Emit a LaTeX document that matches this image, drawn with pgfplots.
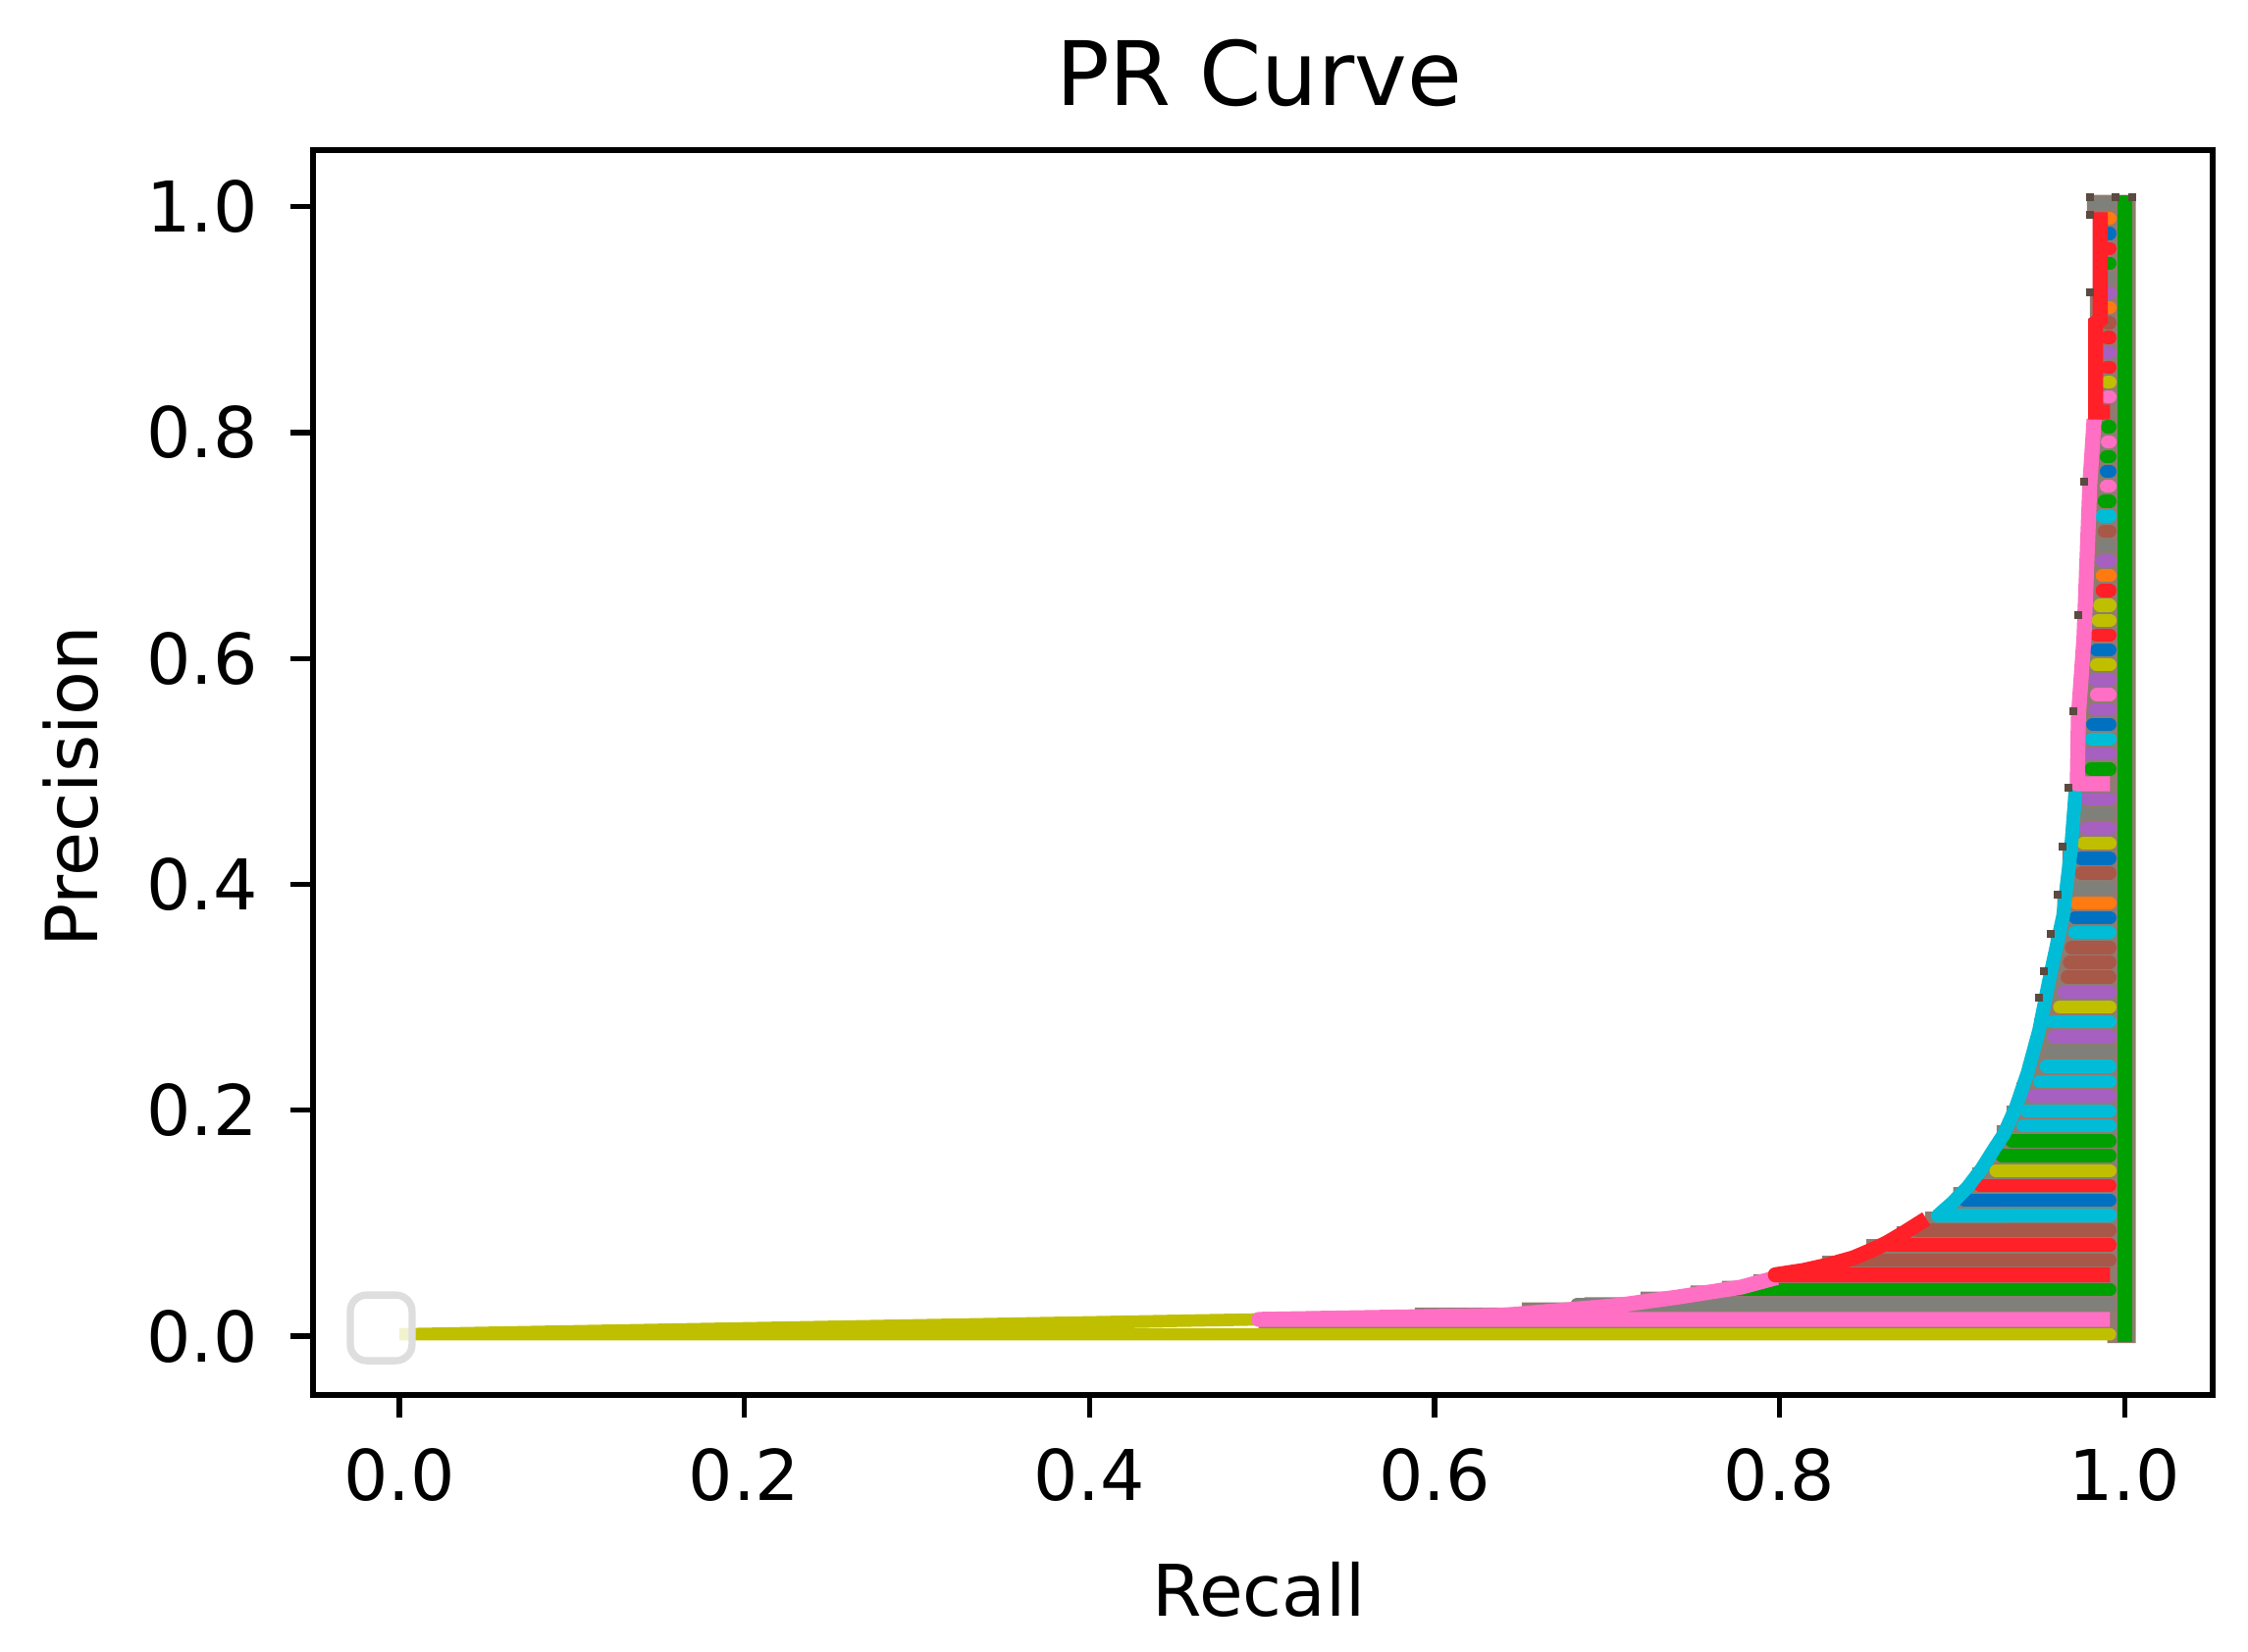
\documentclass[border=0pt]{standalone}
\usepackage{fontspec}
\setmainfont{DejaVu Sans}
\usepackage{pgfplots}
\pgfplotsset{compat=1.18}

\definecolor{cred}{HTML}{FF2028}
\definecolor{cpink}{HTML}{FF70C4}
\definecolor{colive}{HTML}{BFBF00}
\definecolor{ccyan}{HTML}{00BCD6}
\definecolor{cblue}{HTML}{0070C0}
\definecolor{corange}{HTML}{FF7A10}
\definecolor{cpurple}{HTML}{A560C0}
\definecolor{cbrown}{HTML}{A85848}
\definecolor{cgray}{HTML}{80807A}
\definecolor{cgreen}{HTML}{00A000}
\definecolor{cbase}{HTML}{8E7C70}
\definecolor{ctip}{HTML}{5A4A40}

% one stripe per precision level: left end and height, right end is fixed
\newcommand{\stripe}[3]{\addplot[#1,line width=2pt,line cap=round] coordinates {(#2,#3) (0.9915,#3)};}

\begin{document}
\begin{tikzpicture}
\useasboundingbox (-47.85pt,-39.15pt) rectangle (295.8pt,213.3pt);
\begin{axis}[
  at={(0pt,0pt)}, anchor=south west,
  scale only axis, width=290.4pt, height=190.35pt,
  xmin=-0.05, xmax=1.051, ymin=-0.052, ymax=1.05,
  xtick={0,0.2,0.4,0.6,0.8,1}, ytick={0,0.2,0.4,0.6,0.8,1},
  xtick pos=bottom, ytick pos=left, tick align=outside,
  major tick length=3.5pt,
  axis line style={line width=0.8pt},
  tick style={line width=0.8pt,black},
  tick label style={font=\fontsize{10.7}{12}\selectfont,/pgf/number format/assume math mode=true},
  xticklabel style={yshift=-1.2pt},
  yticklabel style={xshift=-1.4pt},
  /pgf/number format/.cd, fixed, fixed zerofill, precision=1, /tikz/.cd,
  title={PR Curve},
  title style={font=\fontsize{13.6}{16}\selectfont,at={(axis description cs:0.498,1.0042)},anchor=base,inner sep=0pt},
  xlabel={Recall},
  xlabel style={font=\fontsize{10.9}{13}\selectfont,at={(axis description cs:0.498,-0.1773)},anchor=base,inner sep=0pt},
  ylabel={Precision},
  ylabel style={font=\fontsize{11}{13}\selectfont,at={(axis description cs:-0.1136,0.489)},anchor=base,inner sep=0pt},
]
% grey-brown stair behind everything
\addplot[fill=cbase,draw=none] coordinates {
 (0.4980,0.0060) (0.4980,0.0190) (0.5289,0.0190) (0.5289,0.0220) (0.5886,0.0220) (0.5886,0.0255)
 (0.6506,0.0255) (0.6506,0.0300) (0.6869,0.0300) (0.6869,0.0345) (0.7194,0.0345) (0.7194,0.0395)
 (0.7484,0.0395) (0.7484,0.0450) (0.7666,0.0450) (0.7666,0.0490) (0.7848,0.0490) (0.7848,0.0550)
 (0.7990,0.0550) (0.7990,0.0608) (0.8246,0.0608) (0.8246,0.0712) (0.8502,0.0712) (0.8502,0.0859)
 (0.8678,0.0859) (0.8678,0.0972) (0.8843,0.0972) (0.8843,0.1102) (0.9007,0.1102) (0.9007,0.1319)
 (0.9116,0.1319) (0.9116,0.1493) (0.9224,0.1493) (0.9224,0.1727) (0.9258,0.1727) (0.9258,0.1866)
 (0.9315,0.1866) (0.9315,0.2040) (0.9372,0.2040) (0.9372,0.2248) (0.9411,0.2248) (0.9411,0.2422)
 (0.9446,0.2422) (0.9446,0.2604) (0.9475,0.2604) (0.9475,0.2813) (0.9502,0.2813) (0.9502,0.2995)
 (0.9531,0.2995) (0.9531,0.3229) (0.9571,0.3229) (0.9571,0.3559) (0.9610,0.3559) (0.9610,0.3906)
 (0.9639,0.3906) (0.9639,0.4332) (0.9673,0.4332) (0.9673,0.4852) (0.9702,0.4852) (0.9702,0.5530)
 (0.9730,0.5530) (0.9730,0.6380) (0.9764,0.6380) (0.9764,0.7569) (0.9798,0.7569) (0.9798,0.9245)
 (0.9827,0.9245) (0.9827,0.9900) (0.9781,0.9900) (0.9781,1.0104) (1.0064,1.0104) (1.0064,-0.0060)
 (0.9900,-0.0060) (0.9900,0.0060)
} \closedcycle;
% dark tips of the stair
\addplot[only marks,mark=square*,mark size=0.4pt,color=ctip] coordinates {
 (0.9502,0.2995) (0.9531,0.3229) (0.9571,0.3559) (0.9610,0.3906) (0.9639,0.4332) (0.9673,0.4852)
 (0.9702,0.5530) (0.9730,0.6380) (0.9764,0.7569) (0.9798,0.9245) (0.9797,1.0087) (0.9797,0.9925)
 (0.9948,1.0087) (1.0043,1.0087)
};
% stripes, top to bottom
\stripe{cgray}{0.9820}{1.0025}
\stripe{corange}{0.9905}{0.9894}
\stripe{cblue}{0.9905}{0.9762}
\stripe{cred}{0.9900}{0.9630}
\stripe{cgreen}{0.9905}{0.9499}
\stripe{cgray}{0.9900}{0.9367}
\stripe{cpurple}{0.9900}{0.9235}
\stripe{corange}{0.9900}{0.9104}
\stripe{cbrown}{0.9900}{0.8972}
\stripe{cred}{0.9900}{0.8840}
\stripe{cpurple}{0.9900}{0.8709}
\stripe{cred}{0.9900}{0.8577}
\stripe{colive}{0.9900}{0.8445}
\stripe{cpink}{0.9900}{0.8314}
\stripe{cgreen}{0.9900}{0.8050}
\stripe{cpink}{0.9900}{0.7918}
\stripe{cgreen}{0.9894}{0.7787}
\stripe{cblue}{0.9894}{0.7655}
\stripe{cpink}{0.9894}{0.7523}
\stripe{cgreen}{0.9881}{0.7392}
\stripe{ccyan}{0.9870}{0.7260}
\stripe{cbrown}{0.9881}{0.7128}
\stripe{cgray}{0.9881}{0.6997}
\stripe{cpurple}{0.9870}{0.6865}
\stripe{corange}{0.9870}{0.6733}
\stripe{cred}{0.9870}{0.6602}
\stripe{colive}{0.9856}{0.6470}
\stripe{colive}{0.9847}{0.6338}
\stripe{cred}{0.9837}{0.6207}
\stripe{cblue}{0.9837}{0.6075}
\stripe{colive}{0.9837}{0.5943}
\stripe{cpurple}{0.9828}{0.5812}
\stripe{cpink}{0.9837}{0.5680}
\stripe{cpurple}{0.9828}{0.5548}
\stripe{cblue}{0.9815}{0.5417}
\stripe{ccyan}{0.9809}{0.5285}
\stripe{cpurple}{0.9799}{0.5153}
\stripe{cgreen}{0.9805}{0.5021}
\stripe{cpurple}{0.9780}{0.4758}
\stripe{cgray}{0.9780}{0.4626}
\stripe{cpurple}{0.9775}{0.4495}
\stripe{colive}{0.9762}{0.4363}
\stripe{cblue}{0.9748}{0.4231}
\stripe{cbrown}{0.9748}{0.4100}
\stripe{cgray}{0.9733}{0.3968}
\stripe{corange}{0.9718}{0.3836}
\stripe{cblue}{0.9714}{0.3705}
\stripe{ccyan}{0.9710}{0.3573}
\stripe{cbrown}{0.9691}{0.3441}
\stripe{cbrown}{0.9680}{0.3310}
\stripe{cbrown}{0.9667}{0.3178}
\stripe{cpurple}{0.9648}{0.3046}
\stripe{colive}{0.9623}{0.2915}
\stripe{ccyan}{0.9581}{0.2783}
\stripe{cpurple}{0.9591}{0.2651}
\stripe{cgray}{0.9572}{0.2520}
\stripe{ccyan}{0.9544}{0.2388}
\stripe{ccyan}{0.9506}{0.2256}
\stripe{cpurple}{0.9468}{0.2124}
\stripe{ccyan}{0.9430}{0.1993}
\stripe{ccyan}{0.9411}{0.1861}
\stripe{cgreen}{0.9345}{0.1729}
\stripe{cgreen}{0.9288}{0.1598}
\stripe{colive}{0.9254}{0.1466}
\stripe{cred}{0.9163}{0.1334}
\stripe{cblue}{0.9072}{0.1203}
\stripe{cbrown}{0.8799}{0.0939}
\stripe{cred}{0.8640}{0.0808}
\stripe{cbrown}{0.8384}{0.0676}
\stripe{cgreen}{0.7690}{0.0412}
\stripe{cgray}{0.6826}{0.0281}
% the long curves, each one starts on its own stripe
\addplot[colive,line width=1.9pt,line cap=round] coordinates {(0.9915,0.0017) (0,0.0017) (0.4982,0.0149)};
\addplot[cpink,line width=2.3pt,line join=round] coordinates {
 (0.9915,0.0149) (0.4982,0.0149) (0.6397,0.0185) (0.7046,0.0270) (0.7410,0.0347) (0.7774,0.0434) (0.7985,0.0520)};
\addplot[cred,line width=2.3pt,line join=round] coordinates {
 (0.9915,0.0544) (0.7975,0.0544) (0.8138,0.0582) (0.8280,0.0630) (0.8428,0.0694) (0.8530,0.0760)
 (0.8620,0.0825) (0.8720,0.0915) (0.8850,0.1040)};
\addplot[ccyan,line width=2.1pt,line cap=round,line join=round] coordinates {
 (0.9915,0.1071) (0.8917,0.1068) (0.9000,0.1180) (0.9090,0.1320) (0.9170,0.1480) (0.9240,0.1650)
 (0.9300,0.1790) (0.9370,0.2030) (0.9438,0.2335) (0.9504,0.2708) (0.9561,0.3142) (0.9643,0.3721)
 (0.9688,0.4300) (0.9713,0.4792)};
\addplot[cpink,line width=2.3pt,line join=round] coordinates {
 (0.9915,0.4890) (0.9725,0.4890) (0.9732,0.5497) (0.9764,0.6180) (0.9798,0.7543) (0.9823,0.8119)};
\addplot[cred,line width=2.3pt,line join=miter] coordinates {
 (0.9915,0.8182) (0.9832,0.8182) (0.9832,0.8972) (0.9858,0.9000) (0.9858,0.9950)};
\addplot[cgreen,line width=2.2pt] coordinates {(1,-0.005) (1,1.0104)};
% empty legend frame
\draw[draw=black!13,fill=white,fill opacity=0.8,line width=1.1pt,rounded corners=2.5pt]
  (axis cs:-0.0284,-0.0217) rectangle (axis cs:0.0074,0.0365);
\end{axis}
\end{tikzpicture}
\end{document}
